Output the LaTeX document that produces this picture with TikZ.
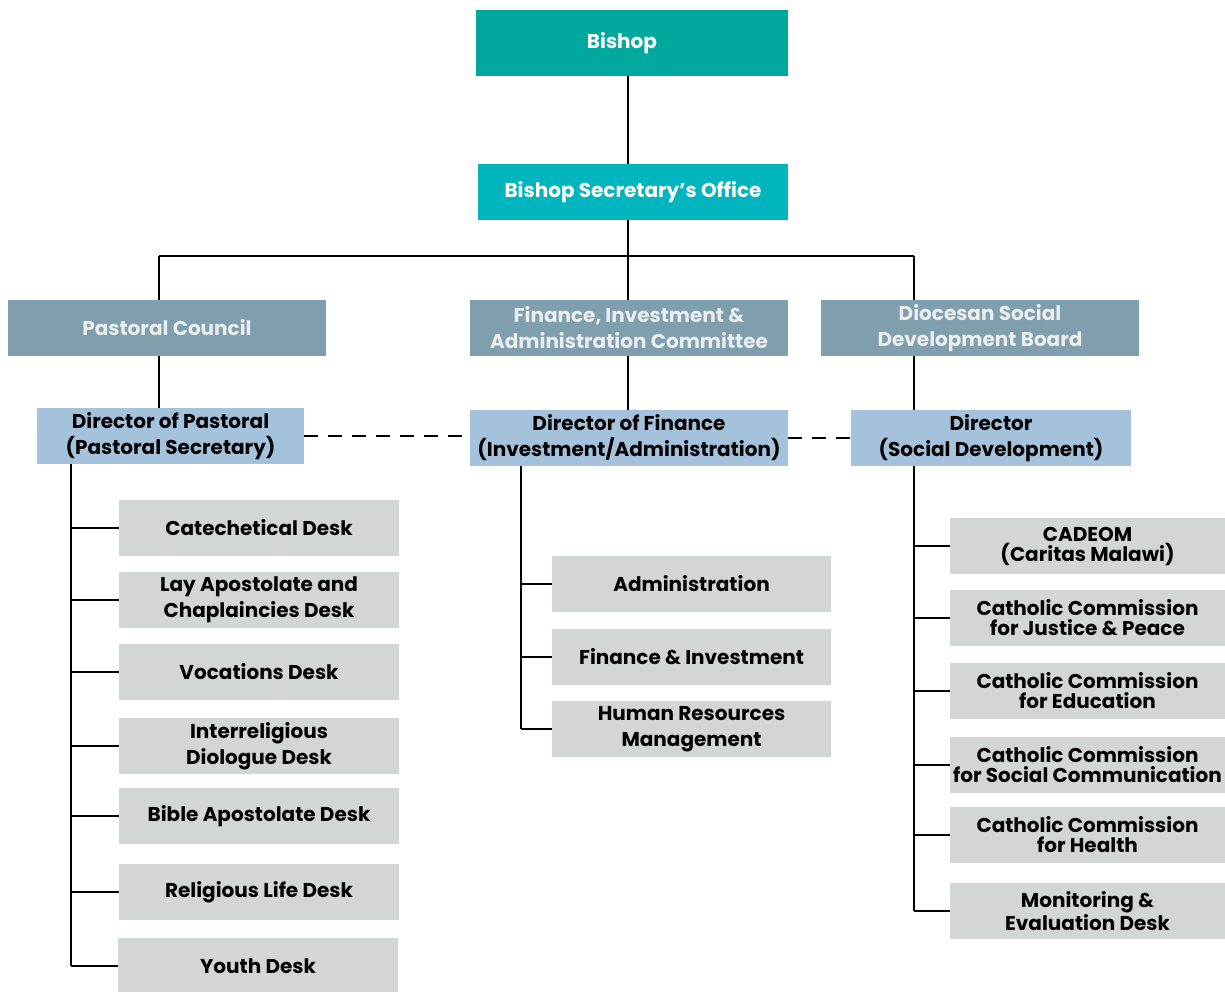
\documentclass[tikz,border=0pt]{standalone}
\usepackage{fontspec}
\setmainfont{Poppins}
\usetikzlibrary{positioning}
\usepackage{xcolor}

\definecolor{bishopteal}{RGB}{0,168,157}
\definecolor{secteal}{RGB}{0,181,190}
\definecolor{boardgrey}{RGB}{127,158,174}
\definecolor{boardtext}{RGB}{236,238,238}
\definecolor{dirblue}{RGB}{164,194,220}
\definecolor{deskgrey}{RGB}{210,214,213}

\tikzset{
  box/.style={inner sep=0pt, align=center, font=\bfseries\fontsize{20}{26}\selectfont},
  headbox/.style={box, text=white, minimum height=56},
  boardbox/.style={box, fill=boardgrey, text=boardtext, minimum width=318, minimum height=56},
  dirbox/.style={box, fill=dirblue, text=black, minimum height=56},
  deskbox/.style={box, fill=deskgrey, text=black, minimum height=56},
  tightdesk/.style={deskbox, font=\bfseries\fontsize{20}{20}\selectfont},
  link/.style={line width=2pt, black},
  dashlink/.style={link, dash pattern=on 14pt off 10pt}
}

\begin{document}
\begin{tikzpicture}[x=1pt, y=-1pt]
\useasboundingbox (0,0) rectangle (1225,992);

	%top of the chart
\node[headbox, fill=bishopteal, minimum width=312, minimum height=66] (bishop) at (632,43) {\makebox[0pt]{\hspace*{-20pt}Bishop}};
\node[headbox, fill=secteal, minimum width=310] (sec) at (633,192) {Bishop Secretary's Office};

	%boards
\node[boardbox] (pc) at (167,328) {Pastoral Council};
\node[boardbox] (fiac) at (629,328) {Finance, Investment \&\\Administration Committee};
\node[boardbox] (dsdb) at (980,328) {Diocesan Social\\Development Board};

	%directors
\node[dirbox, minimum width=267] (dirpas) at (170.5,436) {Director of Pastoral\\(Pastoral Secretary)};
\node[dirbox, minimum width=318] (dirfin) at (629,438) {Director of Finance\\(Investment/Administration)};
\node[dirbox, minimum width=280] (dirsoc) at (991,438) {Director\\(Social Development)};

	%pastoral desks
\node[deskbox, minimum width=280] (pdesk1) at (259,528) {Catechetical Desk};
\node[deskbox, minimum width=280] (pdesk2) at (259,600) {Lay Apostolate and\\Chaplaincies Desk};
\node[deskbox, minimum width=280] (pdesk3) at (259,672) {Vocations Desk};
\node[deskbox, minimum width=280] (pdesk4) at (259,746) {Interreligious\\Diologue Desk};
\node[deskbox, minimum width=280] (pdesk5) at (259,816) {Bible Apostolate Desk};
\node[deskbox, minimum width=280] (pdesk6) at (259,892) {Religious Life Desk};
\node[deskbox, minimum width=280] (pdesk7) at (258,966) {Youth Desk};

	%finance units
\node[deskbox, minimum width=279] (fdesk1) at (691.5,584) {Administration};
\node[deskbox, minimum width=279] (fdesk2) at (691.5,657) {Finance \& Investment};
\node[deskbox, minimum width=279] (fdesk3) at (691.5,729) {Human Resources\\Management};

	%social development commissions
\node[tightdesk, minimum width=275] (sdesk1) at (1087.5,546) {CADEOM\\(Caritas Malawi)};
\node[tightdesk, minimum width=275] (sdesk2) at (1087.5,618) {Catholic Commission\\for Justice \& Peace};
\node[tightdesk, minimum width=275] (sdesk3) at (1087.5,691) {Catholic Commission\\for Education};
\node[tightdesk, minimum width=275] (sdesk4) at (1087.5,765) {Catholic Commission\\for Social Communication};
\node[tightdesk, minimum width=275] (sdesk5) at (1087.5,835) {Catholic Commission\\for Health};
\node[tightdesk, minimum width=275] (sdesk6) at (1087.5,911) {Monitoring \&\\Evaluation Desk};

	%coordinates for the trunk and the spines
\coordinate (hub) at (628,256);
\coordinate (pcdrop) at (159,256);
\coordinate (socdrop) at (914,256);
\coordinate (pspine) at (71,0);
\coordinate (fspine) at (521,0);
\coordinate (sspine) at (914,0);

	%trunk
\draw[link] (bishop.south -| hub) -- (sec.north -| hub);
\draw[link] (sec.south -| hub) -- (hub);
\draw[link] (pcdrop) -- (socdrop);
\draw[link] (pcdrop) -- (pcdrop |- pc.north);
\draw[link] (hub) -- (hub |- fiac.north);
\draw[link] (socdrop) -- (socdrop |- dsdb.north);

	%boards to directors
\draw[link] (pcdrop |- pc.south) -- (pcdrop |- dirpas.north);
\draw[link] (hub |- fiac.south) -- (hub |- dirfin.north);
\draw[link] (socdrop |- dsdb.south) -- (socdrop |- dirsoc.north);

	%dashed links between directors
\draw[dashlink] (dirpas.east) -- (dirpas.east -| dirfin.west);
\draw[dashlink] (dirfin.east) -- (dirsoc.west);

	%spines and branches
\draw[link] (pspine |- dirpas.south) -- (pspine |- pdesk7.west);
\foreach \i in {1,...,7}
  \draw[link] (pspine |- pdesk\i.west) -- (pdesk\i.west);

\draw[link] (fspine |- dirfin.south) -- (fspine |- fdesk3.west);
\foreach \i in {1,2,3}
  \draw[link] (fspine |- fdesk\i.west) -- (fdesk\i.west);

\draw[link] (sspine |- dirsoc.south) -- (sspine |- sdesk6.west);
\foreach \i in {1,...,6}
  \draw[link] (sspine |- sdesk\i.west) -- (sdesk\i.west);

\end{tikzpicture}
\end{document}
